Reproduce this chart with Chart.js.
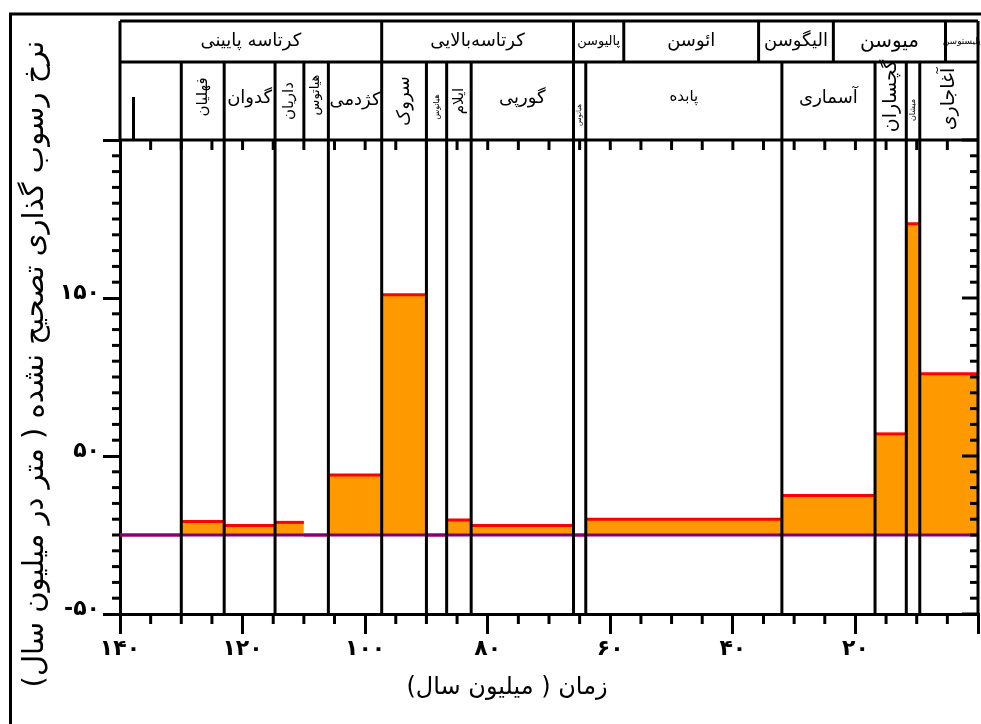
<!DOCTYPE html>
<html>
<head>
<meta charset="utf-8">
<script src="https://cdn.jsdelivr.net/npm/chart.js@4.4.1/dist/chart.umd.min.js"></script>
<style>
  html, body { margin: 0; padding: 0; background: #fff; }
  canvas { display: block; }
</style>
</head>
<body>
<canvas id="chart" width="981" height="724"></canvas>
<script>
// Formations, youngest first: name, top age and base age (Ma), uncorrected sedimentation rate (m/Myr)
const formationNames = ['آغاجاری', 'میشان', 'گچساران', 'آسماری', 'پابده', 'هیاتوس', 'گورپی', 'ایلام', 'هیاتوس', 'سروک', 'کژدمی', 'هیاتوس', 'داریان', 'گدوان', 'فهلیان', ''];
const formationTopAges = [0, 9.5, 11.7, 16.8, 32, 64, 66, 82.7, 86.7, 90, 97.3, 106, 110, 114.7, 123, 130];
const formationBaseAges = [9.5, 11.7, 16.8, 32, 64, 66, 82.7, 86.7, 90, 97.3, 106, 110, 114.7, 123, 130, 140];
const sedimentationRates = [102, 197, 64, 25, 10, 0, 6, 9.5, 0, 152, 38, 0, 8, 6, 8.5, 0];

// Formation contacts that are carried down through the rate panel
const contactAges = [9.5, 11.7, 16.8, 32, 64, 66, 82.7, 86.7, 90, 97.3, 106, 114.7, 123, 130];
// Short marker inside the oldest (unnamed) cell
const markerAges = [137.8];

// Epochs / series, youngest first
const epochNames = ['پلیستوسن', 'میوسن', 'الیگوسن', 'ائوسن', 'پالیوسن', 'کرتاسه‌بالایی', 'کرتاسه پایینی'];
const epochTopAges = [0, 5.3, 23.6, 35.8, 57.8, 66, 97.3];
const epochBaseAges = [5.3, 23.6, 35.8, 57.8, 66, 97.3, 140];

// Axis ticks
const xTickValues = [0, 20, 40, 60, 80, 100, 120, 140];
const xTickLabels = ['', '۲۰', '۴۰', '۶۰', '۸۰', '۱۰۰', '۱۲۰', '۱۴۰'];
const yTickValues = [-50, 50, 150, 250];
const yTickLabels = ['-۵۰', '۵۰', '۱۵۰', ''];

const xTitle = 'زمان ( میلیون سال)';
const yTitle = 'نرخ رسوب گذاری تصحیح نشده ( متر در میلیون سال)';

// Step outline of the rate curve: one flat segment per formation
const ratePoints = [];
formationNames.forEach((_, i) => {
  ratePoints.push({ x: formationTopAges[i], y: sedimentationRates[i] });
  ratePoints.push({ x: formationBaseAges[i], y: sedimentationRates[i] });
});
const baselinePoints = [{ x: 0, y: 0 }, { x: 140, y: 0 }];

const FONT = '"DejaVu Sans", sans-serif';

// Label styling for the header cells (same order as the name arrays)
const formationLabelStyle = [
  { size: 19, rot: true, dy: -2 },
  { size: 8, rot: true, dy: 9 },
  { size: 19, rot: true, dy: -5 },
  { size: 18, rot: false, dy: -3 },
  { size: 15, rot: false, dy: -4 },
  { size: 7, rot: true, dy: 14 },
  { size: 18, rot: false, dy: -3 },
  { size: 15, rot: true, dy: 0 },
  { size: 8, rot: true, dy: 6 },
  { size: 18, rot: true, dy: 0 },
  { size: 18, rot: false, dy: -1 },
  { size: 13, rot: true, dy: -6 },
  { size: 15, rot: true, dy: 0 },
  { size: 18, rot: false, dy: -3 },
  { size: 15, rot: true, dy: -4 },
  null
];
const epochLabelSize = [9, 20, 18, 18, 13, 18, 18];

function drawText(ctx, text, cx, cy, size, rotated, weight) {
  ctx.save();
  ctx.translate(cx, cy);
  if (rotated) ctx.rotate(-Math.PI / 2);
  ctx.font = (weight || 'normal') + ' ' + size + 'px ' + FONT;
  ctx.direction = 'rtl';
  ctx.textAlign = 'center';
  ctx.textBaseline = 'middle';
  ctx.fillStyle = '#000';
  ctx.fillText(text, 0, 0);
  ctx.restore();
}

function line(ctx, x1, y1, x2, y2) {
  ctx.beginPath();
  ctx.moveTo(x1, y1);
  ctx.lineTo(x2, y2);
  ctx.stroke();
}

const stratigraphyFrame = {
  id: 'stratigraphyFrame',
  beforeDraw(chart) {
    const ctx = chart.ctx;
    ctx.save();
    ctx.strokeStyle = '#000';
    ctx.lineWidth = 3;
    ctx.beginPath();
    ctx.moveTo(10.5, chart.height + 5);
    ctx.lineTo(10.5, 14);
    ctx.lineTo(chart.width + 5, 14);
    ctx.stroke();
    ctx.restore();
  },
  afterDatasetsDraw(chart) {
    const { ctx, chartArea: a, scales: { x, y } } = chart;
    const hTop = a.top - 119;
    const hMid = a.top - 78;
    ctx.save();
    ctx.strokeStyle = '#000';
    ctx.lineWidth = 3;
    ctx.lineCap = 'butt';

    // frame of the panel and header
    line(ctx, a.left, hTop, a.right, hTop);
    line(ctx, a.left, hMid, a.right, hMid);
    line(ctx, a.left, a.top, a.right, a.top);
    line(ctx, a.left, hTop, a.left, a.top);
    line(ctx, a.right, hTop, a.right, a.bottom);

    // epoch boundaries
    epochTopAges.forEach(age => {
      if (age <= 0) return;
      const px = x.getPixelForValue(age);
      line(ctx, px, hTop, px, hMid);
    });
    // formation boundaries in the header
    formationTopAges.forEach(age => {
      if (age <= 0) return;
      const px = x.getPixelForValue(age);
      line(ctx, px, hMid, px, a.top);
    });
    // contacts through the rate panel
    contactAges.forEach(age => {
      const px = x.getPixelForValue(age);
      line(ctx, px, a.top, px, a.bottom);
    });
    markerAges.forEach(age => {
      const px = x.getPixelForValue(age);
      line(ctx, px, hMid + 35, px, a.top);
    });

    // minor ticks: bottom (outward), top (inward)
    for (let v = 0; v <= 140; v += 5) {
      const px = x.getPixelForValue(v);
      if (v % 20 !== 0) line(ctx, px, a.bottom, px, a.bottom + 10);
      if (v > 0 && v < 140) line(ctx, px, a.top, px, a.top + 10);
    }
    // minor ticks: left (outward), right (inward)
    for (let v = -50; v <= 250; v += 10) {
      const py = y.getPixelForValue(v);
      const major = yTickValues.includes(v);
      if (!major) line(ctx, a.left - 8, py, a.left, py);
      line(ctx, a.right - (major ? 16 : 8), py, a.right, py);
    }

    // header labels
    const row1 = (hTop + hMid) / 2;
    const row2 = (hMid + a.top) / 2;
    epochNames.forEach((name, i) => {
      const cx = (x.getPixelForValue(epochTopAges[i]) + x.getPixelForValue(epochBaseAges[i])) / 2;
      drawText(ctx, name, cx, row1, epochLabelSize[i], false);
    });
    formationNames.forEach((name, i) => {
      const st = formationLabelStyle[i];
      if (!name || !st) return;
      const cx = (x.getPixelForValue(formationTopAges[i]) + x.getPixelForValue(formationBaseAges[i])) / 2;
      drawText(ctx, name, cx, row2 + st.dy, st.size, st.rot);
    });

    // axis titles
    drawText(ctx, '\u200F' + xTitle + '\u200F', (a.left + a.right) / 2 - 42, a.bottom + 74, 24, false);
    drawText(ctx, '\u200F' + yTitle + '\u200F', 35, (a.top + a.bottom) / 2 - 13, 29, true);
    ctx.restore();
  }
};

// Hide the risers of the step outline; only the flat tops carry the red edge
const sameX = c => c.p0.parsed.x === c.p1.parsed.x;

new Chart(document.getElementById('chart'), {
  type: 'line',
  data: {
    datasets: [
      {
        data: baselinePoints,
        borderColor: '#800080',
        borderWidth: 3,
        pointRadius: 0,
        fill: false,
        order: 0
      },
      {
        data: ratePoints,
        borderColor: '#FF0000',
        backgroundColor: '#FF9900',
        borderWidth: 3,
        pointRadius: 0,
        tension: 0,
        fill: 'origin',
        segment: { borderColor: c => (sameX(c) ? 'rgba(0,0,0,0)' : undefined) },
        order: 1
      }
    ]
  },
  options: {
    responsive: false,
    animation: false,
    devicePixelRatio: 1,
    layout: { padding: { top: 140, right: 3, left: 0, bottom: 0 } },
    plugins: { legend: { display: false }, tooltip: { enabled: false } },
    scales: {
      x: {
        type: 'linear',
        reverse: true,
        min: 0,
        max: 140,
        afterBuildTicks: s => { s.ticks = xTickValues.map(v => ({ value: v })); },
        afterFit: s => { s.height = 110; },
        ticks: {
          autoSkip: false,
          maxRotation: 0,
          padding: 2,
          color: '#000',
          font: { family: FONT, size: 22, weight: 'bold' },
          callback: v => xTickLabels[xTickValues.indexOf(v)] ?? ''
        },
        grid: { drawOnChartArea: false, tickLength: 20, color: '#000', lineWidth: 3 },
        border: { display: true, color: '#000', width: 3 }
      },
      y: {
        type: 'linear',
        min: -50,
        max: 250,
        afterBuildTicks: s => { s.ticks = yTickValues.map(v => ({ value: v })); },
        afterFit: s => { s.width = 120; },
        ticks: {
          autoSkip: false,
          padding: 3,
          labelOffset: -5,
          color: '#000',
          font: { family: FONT, size: 22, weight: 'bold' },
          callback: v => yTickLabels[yTickValues.indexOf(v)] ?? ''
        },
        grid: { drawOnChartArea: false, tickLength: 17, color: '#000', lineWidth: 3 },
        border: { display: true, color: '#000', width: 3 }
      }
    }
  },
  plugins: [stratigraphyFrame]
});
</script>
</body>
</html>
